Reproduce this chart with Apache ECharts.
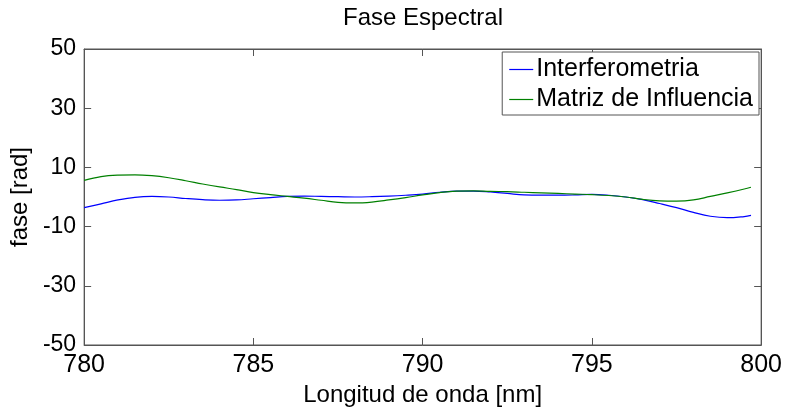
<!DOCTYPE html>
<html><head><meta charset="utf-8">
<script src="https://cdn.jsdelivr.net/npm/echarts@6/dist/echarts.min.js"></script>
<style>html,body{margin:0;padding:0;background:#fff}#c{width:785px;height:412px}</style>
</head><body><div id="c"></div>
<script>
const wavelengths = [780,780.5,781,781.5,782,782.5,783,783.5,784,784.5,785,785.5,786,786.5,787,787.5,788,788.5,789,789.5,790,790.5,791,791.5,792,792.5,793,793.5,794,794.5,795,795.5,796,796.5,797,797.5,798,798.5,799,799.5,799.7];
const interferometria = [-3.6,-2.3,-1.0,-0.1,0.2,0.0,-0.5,-0.9,-1.1,-1.0,-0.6,-0.2,0.2,0.3,0.2,0.1,0.0,0.1,0.3,0.6,1.0,1.6,2.0,2.0,1.7,1.2,0.7,0.6,0.6,0.7,0.9,0.6,0.0,-0.9,-2.2,-3.6,-5.2,-6.5,-7.0,-6.6,-6.2];
const matriz = [5.6,6.9,7.4,7.5,7.2,6.5,5.5,4.4,3.4,2.5,1.5,0.8,0.2,-0.4,-1.1,-1.8,-2.0,-1.7,-1.0,-0.2,0.7,1.5,2.0,2.1,1.9,1.8,1.6,1.4,1.2,1.0,0.8,0.5,0.0,-0.8,-1.3,-1.4,-1.0,0.2,1.4,2.7,3.3];
const seriesNames = ['Interferometria','Matriz de Influencia'];
const xTicks = [780,785,790,795,800];
const yTicks = [-50,-30,-10,10,30,50];

const font = 'Liberation Sans, Arial, sans-serif';
const axisColor = '#555';
const chart = echarts.init(document.getElementById('c'), null, {renderer:'canvas'});
const pair = a => wavelengths.map((w,i)=>[w,a[i]]);
const lineIcon = 'path://M0,0 L40,0 L40,2 L0,2 Z';
chart.setOption({
  animation:false,
  backgroundColor:'#fff',
  title:{text:'Fase Espectral',left:423,top:6,textAlign:'center',padding:0,
    textStyle:{fontFamily:font,fontSize:24,fontWeight:'normal',color:'#000'}},
  grid:{left:83,right:23,top:49,bottom:61,containLabel:false,show:true,borderColor:axisColor,borderWidth:1,backgroundColor:'#fff'},
  legend:{data:seriesNames,orient:'vertical',right:26,top:52,icon:lineIcon,
    backgroundColor:'#fff',borderColor:axisColor,borderWidth:1,borderRadius:0,
    padding:[5,6,3,7],itemGap:5,itemWidth:24,itemHeight:1.5,
    textStyle:{fontFamily:font,fontSize:25,color:'#000',padding:[0,0,0,-2],lineHeight:25}},
  xAxis:[{type:'value',min:780,max:800,interval:5,position:'bottom',
    name:'Longitud de onda [nm]',nameLocation:'middle',nameGap:38,
    nameTextStyle:{fontFamily:font,fontSize:24,color:'#000'},
    axisLine:{show:true,onZero:false,lineStyle:{color:axisColor}},
    axisTick:{show:true,inside:true,length:7,lineStyle:{color:axisColor}},
    axisLabel:{fontFamily:font,fontSize:25,color:'#000',margin:8},
    splitLine:{show:false}},
   {type:'value',min:780,max:800,interval:5,position:'top',
    axisLine:{show:true,onZero:false,lineStyle:{color:axisColor}},
    axisTick:{show:true,inside:true,length:7,lineStyle:{color:axisColor}},
    axisLabel:{show:false},splitLine:{show:false}}],
  yAxis:[{type:'value',min:-50,max:50,interval:20,position:'left',
    name:'fase [rad]',nameLocation:'middle',nameGap:48,
    nameTextStyle:{fontFamily:font,fontSize:24,color:'#000'},
    axisLine:{show:true,onZero:false,lineStyle:{color:axisColor}},
    axisTick:{show:true,inside:true,length:7,lineStyle:{color:axisColor}},
    axisLabel:{fontFamily:font,fontSize:23,color:'#000',margin:8},
    splitLine:{show:false}},
   {type:'value',min:-50,max:50,interval:20,position:'right',
    axisLine:{show:true,onZero:false,lineStyle:{color:axisColor}},
    axisTick:{show:true,inside:true,length:7,lineStyle:{color:axisColor}},
    axisLabel:{show:false},splitLine:{show:false}}],
  series:[
    {name:seriesNames[0],type:'line',data:pair(interferometria),smooth:0.4,symbol:'none',
      lineStyle:{color:'#0000ff',width:1.2},itemStyle:{color:'#0000ff'}},
    {name:seriesNames[1],type:'line',data:pair(matriz),smooth:0.4,symbol:'none',
      lineStyle:{color:'#008000',width:1.2},itemStyle:{color:'#008000'}}
  ]
});
</script></body></html>
